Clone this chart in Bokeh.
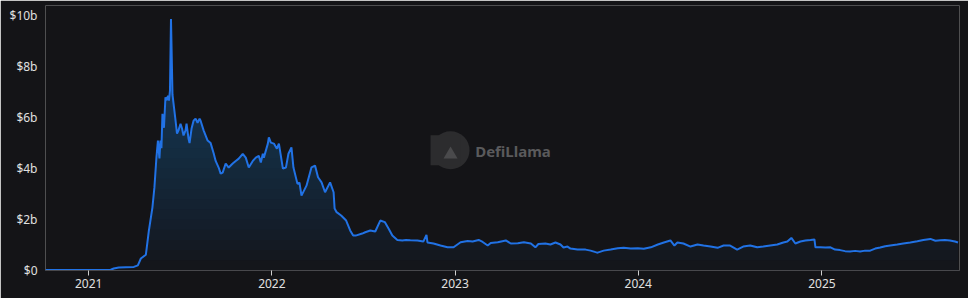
import numpy as np
import pandas as pd
from bokeh.plotting import figure
from bokeh.models import Range1d, FixedTicker, DatetimeTickFormatter, Label
from bokeh.embed import file_html
from bokeh.resources import INLINE

# ---- data (TVL in billions USD) ----
dates = [
    "2020-10-07", "2020-12-16", "2021-02-14", "2021-02-20", "2021-03-02", "2021-03-16",
    "2021-04-01", "2021-04-09", "2021-04-15", "2021-04-25", "2021-05-01", "2021-05-08",
    "2021-05-12", "2021-05-16", "2021-05-19", "2021-05-22", "2021-05-24", "2021-05-26",
    "2021-05-28", "2021-05-31", "2021-06-03", "2021-06-05", "2021-06-08", "2021-06-10",
    "2021-06-12", "2021-06-14", "2021-06-15", "2021-06-17", "2021-06-20", "2021-06-23",
    "2021-06-26", "2021-06-29", "2021-07-03", "2021-07-06", "2021-07-09", "2021-07-13",
    "2021-07-15", "2021-07-19", "2021-07-21", "2021-07-25", "2021-07-29", "2021-08-02",
    "2021-08-06", "2021-08-10", "2021-08-12", "2021-08-18", "2021-08-26", "2021-09-01",
    "2021-09-07", "2021-09-11", "2021-09-17", "2021-09-21", "2021-09-25", "2021-10-01",
    "2021-10-07", "2021-10-15", "2021-10-21", "2021-10-27", "2021-11-04", "2021-11-10",
    "2021-11-16", "2021-11-24", "2021-11-30", "2021-12-06", "2021-12-10", "2021-12-14",
    "2021-12-16", "2021-12-24", "2021-12-26", "2021-12-30", "2022-01-05", "2022-01-11",
    "2022-01-15", "2022-01-23", "2022-01-29", "2022-02-03", "2022-02-09", "2022-02-13",
    "2022-02-21", "2022-02-25", "2022-03-01", "2022-03-11", "2022-03-21", "2022-03-28",
    "2022-04-03", "2022-04-10", "2022-04-17", "2022-04-27", "2022-05-04", "2022-05-06",
    "2022-05-10", "2022-05-19", "2022-05-29", "2022-06-06", "2022-06-12", "2022-06-17",
    "2022-06-30", "2022-07-06", "2022-07-16", "2022-07-26", "2022-08-05", "2022-08-14",
    "2022-08-22", "2022-08-29", "2022-09-08", "2022-09-18", "2022-09-25", "2022-10-04",
    "2022-10-18", "2022-10-30", "2022-11-05", "2022-11-07", "2022-11-19", "2022-12-03",
    "2022-12-17", "2022-12-29", "2023-01-12", "2023-01-26", "2023-02-05", "2023-02-17",
    "2023-02-25", "2023-03-07", "2023-03-13", "2023-03-27", "2023-04-12", "2023-04-22",
    "2023-05-06", "2023-05-18", "2023-06-01", "2023-06-10", "2023-06-16", "2023-06-30",
    "2023-07-10", "2023-07-20", "2023-07-30", "2023-08-05", "2023-08-13", "2023-08-19",
    "2023-09-02", "2023-09-18", "2023-09-28", "2023-10-08", "2023-10-12", "2023-10-24",
    "2023-11-07", "2023-11-21", "2023-12-03", "2023-12-17", "2023-12-31", "2024-01-12",
    "2024-01-26", "2024-02-09", "2024-02-21", "2024-03-05", "2024-03-13", "2024-03-19",
    "2024-03-31", "2024-04-14", "2024-04-28", "2024-05-10", "2024-05-24", "2024-06-07",
    "2024-06-19", "2024-07-02", "2024-07-16", "2024-07-28", "2024-08-11", "2024-08-25",
    "2024-09-06", "2024-09-20", "2024-10-04", "2024-10-16", "2024-10-24", "2024-11-01",
    "2024-11-09", "2024-11-19", "2024-11-29", "2024-12-09", "2024-12-17", "2024-12-19",
    "2024-12-29", "2025-01-08", "2025-01-18", "2025-01-27", "2025-02-06", "2025-02-16",
    "2025-02-26", "2025-03-08", "2025-03-18", "2025-03-28", "2025-04-07", "2025-04-17",
    "2025-04-27", "2025-05-07", "2025-05-17", "2025-05-31", "2025-06-12", "2025-06-26",
    "2025-07-10", "2025-07-22", "2025-08-05", "2025-08-15", "2025-08-25", "2025-09-03",
    "2025-09-13", "2025-09-23", "2025-09-29",
]
tvl = [
    0.02, 0.02, 0.03, 0.08, 0.12, 0.13,
    0.14, 0.20, 0.47, 0.62, 1.57, 2.47,
    3.26, 4.43, 5.10, 4.40, 5.10, 4.80,
    6.15, 5.60, 6.80, 6.67, 6.86, 6.67,
    7.06, 9.87, 8.90, 6.90, 6.40, 5.90,
    5.37, 5.50, 5.76, 5.57, 5.30, 5.50,
    5.76, 5.17, 5.00, 5.57, 5.88, 5.96,
    5.80, 5.96, 5.88, 5.50, 5.10, 5.00,
    4.60, 4.30, 4.04, 3.80, 3.84, 4.20,
    4.04, 4.20, 4.30, 4.39, 4.58, 4.43,
    4.04, 4.30, 4.43, 4.50, 4.24, 4.58,
    4.43, 4.98, 5.22, 5.02, 4.98, 4.78,
    4.98, 4.00, 4.04, 4.58, 4.83, 4.04,
    3.40, 3.45, 2.94, 3.33, 4.05, 4.12,
    3.66, 3.46, 3.07, 3.46, 3.07, 2.43,
    2.29, 2.16, 1.96, 1.57, 1.37, 1.37,
    1.45, 1.50, 1.57, 1.53, 1.96, 1.90,
    1.63, 1.37, 1.20, 1.18, 1.20, 1.19,
    1.18, 1.14, 1.40, 1.10, 1.06, 0.98,
    0.91, 0.91, 1.11, 1.16, 1.14, 1.20,
    1.12, 0.98, 1.08, 1.11, 1.18, 1.06,
    1.07, 1.11, 1.06, 0.91, 1.04, 1.06,
    1.02, 1.10, 1.02, 0.90, 0.94, 0.86,
    0.82, 0.82, 0.78, 0.72, 0.70, 0.78,
    0.82, 0.87, 0.89, 0.86, 0.87, 0.85,
    0.91, 1.02, 1.10, 1.18, 0.98, 1.10,
    1.06, 0.94, 1.02, 0.98, 0.94, 0.89,
    0.98, 0.98, 0.82, 0.94, 0.98, 0.91,
    0.94, 0.98, 1.02, 1.10, 1.14, 1.28,
    1.06, 1.14, 1.18, 1.20, 1.22, 0.91,
    0.91, 0.90, 0.91, 0.82, 0.80, 0.76,
    0.75, 0.77, 0.75, 0.78, 0.78, 0.86,
    0.90, 0.95, 0.98, 1.02, 1.06, 1.10,
    1.15, 1.20, 1.24, 1.17, 1.19, 1.20,
    1.18, 1.14, 1.10,
]
year_ticks = ["2021-01-01", "2022-01-01", "2023-01-01", "2024-01-01", "2025-01-01"]
y_ticks = [0, 2, 4, 6, 8, 10]
y_tick_labels = ["$0", "$2b", "$4b", "$6b", "$8b", "$10b"]

# ---- styling ----
BG = "#141417"
LINE = "#2172E5"
FONT = "Noto Sans"

x = pd.to_datetime(dates)
v = np.array(tvl)

def ms(s):
    return pd.Timestamp(s).timestamp() * 1000.0

p = figure(width=968, height=298, x_axis_type="datetime",
           output_backend="svg", toolbar_location=None,
           min_border_left=45, min_border_right=9, min_border_top=5, min_border_bottom=28)
p.x_range = Range1d(ms("2020-10-07"), ms("2025-10-02"))
p.y_range = Range1d(0, 10.4)

p.background_fill_color = BG
p.border_fill_color = BG
p.outline_line_color = None
p.grid.visible = False

# gradient-like area fill: stacked translucent layers
levels = np.linspace(0, 10, 26)[:-1]
for lv in levels:
    p.varea(x=x, y1=np.full_like(v, lv), y2=np.maximum(v, lv),
            fill_color=LINE, fill_alpha=0.022)

p.line(x, v, line_color=LINE, line_width=2)

# watermark
p.scatter(x=[pd.Timestamp("2022-12-23")], y=[4.72], size=38, marker="circle",
          fill_color="#2c2c2e", line_color=None)
p.scatter(x=[pd.Timestamp("2022-12-13")], y=[4.72], size=30, marker="square",
          fill_color="#2c2c2e", line_color=None)
p.scatter(x=[pd.Timestamp("2022-12-23")], y=[4.55], size=14, marker="triangle",
          fill_color="#4a4a4c", line_color=None)
p.add_layout(Label(x=ms("2023-02-10"), y=4.7, text="DefiLlama",
                   text_font=FONT, text_font_size="15px", text_font_style="bold",
                   text_color="#5a5a5c", text_baseline="middle"))

# axes
xa = p.xaxis[0]
xa.ticker = FixedTicker(ticks=[ms(t) for t in year_ticks])
xa.formatter = DatetimeTickFormatter(years="%Y", months="%Y", days="%Y")
xa.axis_line_color = "#48484c"
xa.axis_line_width = 1
xa.major_tick_line_color = "#d0d0d0"
xa.major_tick_in = 0
xa.major_tick_out = 5
xa.minor_tick_line_color = None
xa.major_label_standoff = 3
xa.major_label_text_color = "#e0e0e0"
xa.major_label_text_font = FONT
xa.major_label_text_font_size = "12px"

ya = p.yaxis[0]
ya.ticker = FixedTicker(ticks=y_ticks)
ya.major_label_overrides = {t: lab for t, lab in zip(y_ticks, y_tick_labels)}
ya.axis_line_color = None
ya.major_tick_line_color = None
ya.minor_tick_line_color = None
ya.major_tick_in = 0
ya.major_tick_out = 0
ya.major_label_standoff = 8
ya.major_label_text_color = "#e0e0e0"
ya.major_label_text_font = FONT
ya.major_label_text_font_size = "12px"

open("out.html", "w").write(file_html(p, INLINE))
